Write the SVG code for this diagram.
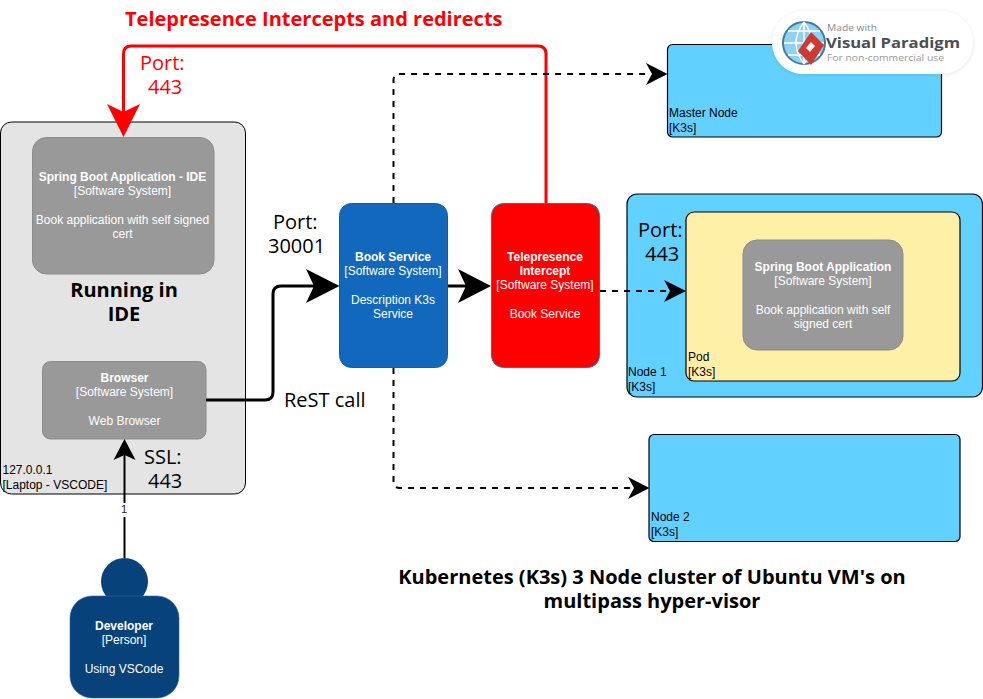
<svg xmlns="http://www.w3.org/2000/svg" width="983" height="699" viewBox="0 0 983 699">
<style>
text{font-family:"Liberation Sans",Arial,sans-serif;font-size:12px}
.c{text-anchor:middle;fill:#fff}
.b{font-weight:bold}
.k{fill:#000}
.o{font-family:"Open Sans","Noto Sans",sans-serif;font-size:20px}
.m{text-anchor:middle}
.gray{fill:#999;stroke:#8c8c8c}
.node{fill:#63d1ff;stroke:#000;stroke-width:1.2}
.w{fill:none;stroke:#000}
</style>
<defs>
<filter id="sh" x="-10%" y="-20%" width="120%" height="140%"><feGaussianBlur stdDeviation="2"/></filter>
</defs>
<g id="laptop">
<rect x="0.5" y="122" width="245" height="372" rx="11" fill="#e4e4e4" stroke="#000"/>
<text class="k" x="2.500" y="474">127.0.0.1</text>
<text class="k" x="2.500" y="489">[Laptop - VSCODE]</text>
<text class="o b m" x="124" y="297">Running in</text>
<text class="o b m" x="124" y="321">IDE</text>
</g>
<g id="spring-ide">
<rect class="gray" x="32.500" y="137.500" width="181.500" height="136.500" rx="14"/>
<text class="c b" x="122.500" y="181">Spring Boot Application - IDE</text>
<text class="c" x="122.500" y="195">[Software System]</text>
<text class="c" x="122.500" y="224">Book application with self signed</text>
<text class="c" x="122.500" y="238">cert</text>
</g>
<g id="browser">
<rect class="gray" x="42.500" y="361.500" width="163.500" height="77.500" rx="8"/>
<text class="c b" x="124.500" y="382">Browser</text>
<text class="c" x="124.500" y="396">[Software System]</text>
<text class="c" x="124.500" y="425">Web Browser</text>
</g>
<g id="developer">
<circle cx="124.500" cy="581.500" r="23.500" fill="#08427b"/>
<rect x="70" y="596" width="109" height="102" rx="22" fill="#08427b" stroke="#2d6aa5" stroke-width="0.6"/>
<text class="c b" x="124" y="630">Developer</text>
<text class="c" x="124" y="644">[Person]</text>
<text class="c" x="124" y="673">Using VSCode</text>
</g>
<g id="book-service">
<rect x="339.500" y="203.500" width="108" height="164" rx="12" fill="#1168bd" stroke="#0f5eaa"/>
<text class="c b" x="393" y="261">Book Service</text>
<text class="c" x="393" y="275">[Software System]</text>
<text class="c" x="393" y="304">Description K3s</text>
<text class="c" x="393" y="318">Service</text>
</g>
<g id="telepresence-intercept">
<rect x="491.500" y="203.500" width="108" height="164" rx="12" fill="#f00" stroke="#3a6ea5"/>
<text class="c b" x="545" y="261">Telepresence</text>
<text class="c b" x="545" y="275">Intercept</text>
<text class="c" x="545" y="289">[Software System]</text>
<text class="c" x="545" y="318">Book Service</text>
</g>
<g id="master-node">
<rect class="node" x="667.500" y="44.500" width="274" height="92.500" rx="5"/>
<text class="k" x="669" y="117">Master Node</text>
<text class="k" x="669" y="132">[K3s]</text>
</g>
<g id="node-1">
<rect class="node" x="627" y="194" width="355.500" height="203" rx="10"/>
<text class="k" x="628" y="376">Node 1</text>
<text class="k" x="628" y="391">[K3s]</text>
<text class="o" x="638" y="237">Port:</text>
<text class="o" x="645" y="261">443</text>
</g>
<g id="pod">
<rect x="686" y="212" width="274" height="169" rx="8" fill="#fff0a8" stroke="#000" stroke-width="1.200"/>
<text class="k" x="688" y="361">Pod</text>
<text class="k" x="688" y="376">[K3s]</text>
</g>
<g id="spring-boot">
<rect class="gray" x="743" y="240" width="160" height="110" rx="14"/>
<text class="c b" x="823" y="271">Spring Boot Application</text>
<text class="c" x="823" y="285">[Software System]</text>
<text class="c" x="823" y="314">Book application with self</text>
<text class="c" x="823" y="328">signed cert</text>
</g>
<g id="node-2">
<rect class="node" x="649" y="434.500" width="311" height="107" rx="5"/>
<text class="k" x="651" y="521">Node 2</text>
<text class="k" x="651" y="536">[K3s]</text>
</g>
<g id="connectors">
<path d="M546 203V54Q546 46 538 46H131Q123.500 46 123.500 54V112" fill="none" stroke="#f00" stroke-width="3"/>
<path d="M123.500 137L107 104L123.500 112L140 104Z" fill="#f00"/>
<path class="w" stroke-width="3" d="M206 400H265Q273 400 273 392V294Q273 286 281 286H318"/>
<path d="M339.500 286L306 303L314 286L306 269Z"/>
<path class="w" stroke-width="3" d="M448 286H468"/>
<path d="M491 286L458 303L466 286L458 269Z"/>
<path class="w" stroke-width="2" stroke-dasharray="6 6" d="M393.500 203V80Q393.500 74 400 74H650"/>
<path d="M667.500 74L646 85L652 74L646 63Z"/>
<path class="w" stroke-width="2" stroke-dasharray="6 6" d="M393.500 368V482Q393.500 488 400 488H632"/>
<path d="M649.500 488L628 499L634 488L628 477Z"/>
<path class="w" stroke-width="2" stroke-dasharray="6 6" d="M600 291H670"/>
<path d="M686 291L664 302L670 291L664 280Z"/>
<path class="w" stroke-width="2" d="M124.500 558V452"/>
<path d="M124.500 439L135.500 460L124.500 455L113.500 460Z"/>
<rect x="119" y="503" width="10" height="14" fill="#fff"/>
<text x="124" y="513" text-anchor="middle" style="font-size:11px" fill="#222">1</text>
</g>
<g id="labels">
<text x="125" y="26" style="font-family:'Open Sans','Noto Sans',sans-serif;font-size:20px" class="b" fill="#f00">Telepresence Intercepts and redirects</text>
<text class="o" x="140" y="70" fill="#f00">Port:</text>
<text class="o" x="148" y="94" fill="#f00">443</text>
<text class="o" x="273" y="229">Port:</text>
<text class="o" x="268" y="253">30001</text>
<text class="o" x="284" y="407">ReST call</text>
<text class="o" x="144" y="464">SSL:</text>
<text class="o" x="148" y="488">443</text>
<text class="b m" x="652" y="584" style="font-family:'Open Sans','Noto Sans',sans-serif;font-size:20px">Kubernetes (K3s) 3 Node cluster of Ubuntu VM's on</text>
<text class="b m" x="652" y="608" style="font-family:'Open Sans','Noto Sans',sans-serif;font-size:20px">multipass hyper-visor</text>
</g>
<g id="watermark">
<rect x="772" y="12" width="201" height="63" rx="31" fill="#000" opacity="0.1" filter="url(#sh)"/>
<rect x="772" y="11" width="201" height="63" rx="31" fill="#fff"/>
<circle cx="804" cy="43" r="21" fill="#8fd0f5" stroke="#3f7d96" stroke-width="2"/>
<path d="M784 43H824M804 22V64M788 31H820M788 55H820M804 22Q788 43 804 64M804 22Q820 43 804 64" fill="none" stroke="#fff" stroke-width="1.500"/>
<path d="M811 32L824 45L811 65L798 51Z" fill="#d0392f"/>
<path d="M811 42L815 46L810 52L806 48Z" fill="#fff"/>
<text x="827" y="31" fill="#8a8a8a" style="font-size:9px;font-family:'Open Sans',sans-serif" textLength="50" lengthAdjust="spacingAndGlyphs">Made with</text>
<text x="826" y="48" fill="#4a4f54" class="b" style="font-size:15px;font-family:'Open Sans',sans-serif" textLength="134" lengthAdjust="spacingAndGlyphs">Visual Paradigm</text>
<text x="827" y="61" fill="#9a9a9a" style="font-size:9px;font-family:'Open Sans',sans-serif" textLength="117" lengthAdjust="spacingAndGlyphs">For non-commercial use</text>
</g>
</svg>
